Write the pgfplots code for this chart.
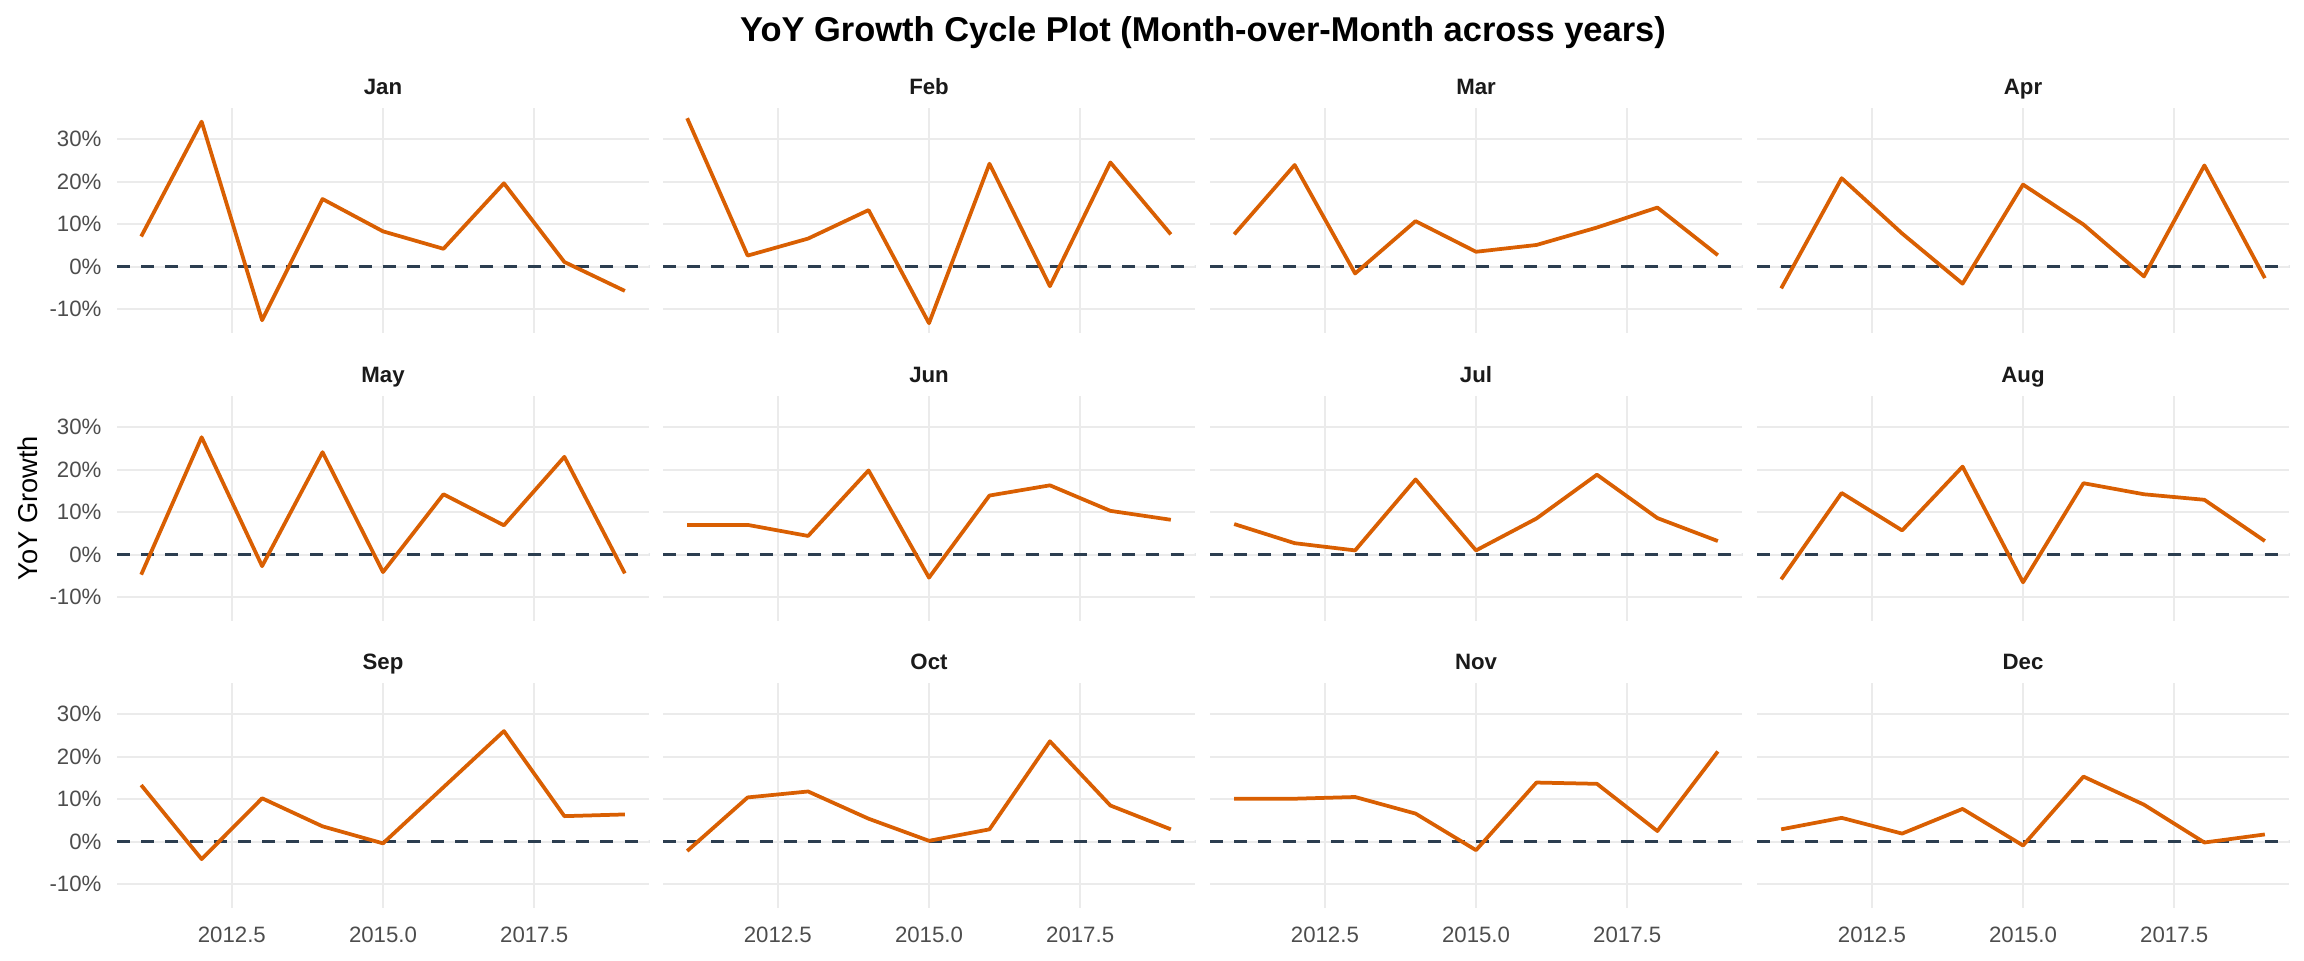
\documentclass[border=0pt]{standalone}
\usepackage{fontspec}
\setmainfont{Liberation Sans}
\usepackage{pgfplots}
\pgfplotsset{compat=1.18}
\usepackage{pgfplotstable}

\definecolor{lineor}{HTML}{D95F02}
\definecolor{zeroline}{HTML}{2C3E50}
\definecolor{gridc}{HTML}{EBEBEB}
\definecolor{tickc}{HTML}{4D4D4D}
\definecolor{stripc}{HTML}{1A1A1A}

% YoY growth in percent, one column per month
\pgfplotstableread{
year Jan  Feb   Mar  Apr  May  Jun  Jul  Aug  Sep  Oct  Nov  Dec
2011 7.1  34.9  7.6  -5.1 -4.7 7.0  7.2  -5.8 13.3 -2.2 10.1 2.9
2012 34.1 2.6   23.9 20.8 27.6 7.0  2.7  14.5 -4.1 10.4 10.1 5.6
2013 -12.6 6.6  -1.6 7.8  -2.7 4.4  1.0  5.7  10.2 11.8 10.5 1.9
2014 15.9 13.3  10.7 -4.0 24.1 19.8 17.7 20.7 3.6  5.4  6.6  7.7
2015 8.3  -13.3 3.5  19.3 -4.1 -5.4 1.0  -6.5 -0.4 0.2  -2.0 -0.9
2016 4.2  24.2  5.1  9.9  14.2 13.9 8.5  16.8 12.8 2.9  13.9 15.3
2017 19.6 -4.6  9.2  -2.3 6.9  16.3 18.8 14.2 26.0 23.6 13.6 8.7
2018 1.1  24.5  13.9 23.8 23.0 10.3 8.6  12.9 6.0  8.5  2.5  -0.2
2019 -5.7 7.6   2.7  -2.7 -4.4 8.2  3.2  3.2  6.4  2.9  21.2 1.7
}\yoy

\pgfplotsset{
  every axis title shift=0pt,
  panel/.style={
    scale only axis, width=191.52pt, height=81pt, anchor=north west,
    xmin=2010.6, xmax=2019.4, ymin=-15.6, ymax=37.3,
    xtick={2012.5,2015,2017.5}, ytick={-10,0,10,20,30},
    xticklabels={}, yticklabels={},
    grid=major, major grid style={gridc, line width=0.72pt},
    axis line style={draw=none}, major tick length=0pt,
    tick style={draw=none},
    tick label style={font=\fontsize{8}{9.6}\selectfont, text=tickc, inner sep=0pt},
    xticklabel style={anchor=north, yshift=-6.5pt},
    yticklabel style={anchor=east, xshift=-5.4pt},
    title style={at={(0.5,1)}, anchor=base, yshift=5pt,
      font=\bfseries\fontsize{8}{9.6}\selectfont, text=stripc},
  },
  xlab/.style={xticklabels={2012.5,2015.0,2017.5}},
  ylab/.style={yticklabels={-10\%,0\%,10\%,20\%,30\%}},
}

% #1 left (px), #2 top (px), #3 month, #4 extra options
\newcommand\panel[4]{%
  \begin{axis}[panel, at={(#1*0.36pt,-#2*0.36pt)}, title={#3}, #4]
    \addplot[zeroline, line width=1.05pt, dash pattern=on 4.7pt off 4pt]
      coordinates {(2010.6,0) (2019.4,0)};
    \addplot[lineor, line width=1.35pt, line join=round] table[x=year, y=#3] {\yoy};
  \end{axis}}

\begin{document}
\begin{tikzpicture}
  \useasboundingbox (0,0) rectangle (829.44pt,-345.6pt);

  \panel{117}{108}{Jan}{ylab}
  \panel{663}{108}{Feb}{}
  \panel{1210}{108}{Mar}{}
  \panel{1757}{108}{Apr}{}

  \panel{117}{396}{May}{ylab}
  \panel{663}{396}{Jun}{}
  \panel{1210}{396}{Jul}{}
  \panel{1757}{396}{Aug}{}

  \panel{117}{683}{Sep}{ylab, xlab}
  \panel{663}{683}{Oct}{xlab}
  \panel{1210}{683}{Nov}{xlab}
  \panel{1757}{683}{Dec}{xlab}

  \node[anchor=base, font=\bfseries\fontsize{12.4}{14}\selectfont]
    at (1203*0.36pt,-41*0.36pt) {YoY Growth Cycle Plot (Month-over-Month across years)};
  \node[rotate=90, anchor=base, font=\fontsize{9.8}{12}\selectfont]
    at (37.5*0.36pt,-508*0.36pt) {YoY Growth};
\end{tikzpicture}
\end{document}
